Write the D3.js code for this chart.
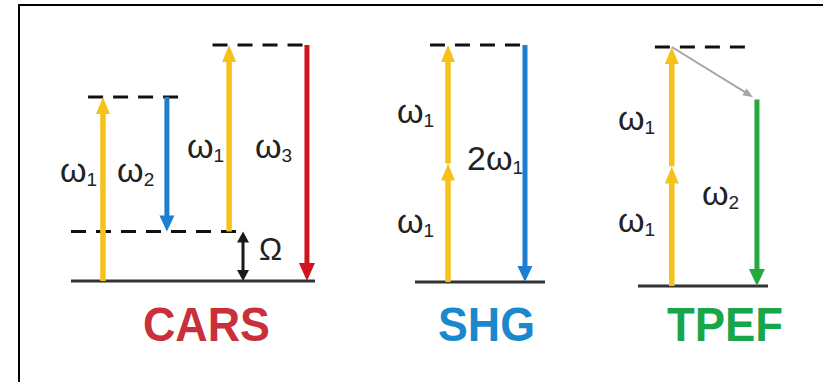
<!DOCTYPE html>
<html>
<head>
<meta charset="utf-8">
<script src="https://d3js.org/d3.v7.min.js"></script>
<style>
  body { margin: 0; background: #fff; }
  svg { display: block; }
</style>
</head>
<body>
<svg id="chart" width="823" height="382"></svg>
<script>
// ---- data: energies in arbitrary units (top virtual level = 100), x in panel units 0..100
const panels = ["CARS", "SHG", "TPEF"];

// levels: [panel, energy, xFrom, xTo, dashed]
const levels = [
  ["CARS", 0, 0, 100, false],
  ["CARS", 21, 0, 70.5, true],
  ["CARS", 78, 7, 45.5, true],
  ["CARS", 100, 58, 97, true],
  ["SHG", 0, 0, 100, false],
  ["SHG", 100, 11.5, 84.6, true],
  ["TPEF", 0, 0, 100, false],
  ["TPEF", 100, 13, 84.6, true]
];

// transitions: [panel, kind, x0, E0, x1, E1]
const transitions = [
  ["CARS", "pump", 13.1, 0, 13.1, 78],
  ["CARS", "stokes", 39.3, 78, 39.3, 21],
  ["CARS", "pump", 64.8, 21, 64.8, 100],
  ["CARS", "antistokes", 96.7, 100, 96.7, 0],
  ["CARS", "raman", 70.5, 0, 70.5, 21],
  ["SHG", "pump", 25.4, 0, 25.4, 50],
  ["SHG", "pump", 25.4, 50, 25.4, 100],
  ["SHG", "shg", 84.6, 100, 84.6, 0],
  ["TPEF", "pump", 26, 0, 26, 50],
  ["TPEF", "pump", 26, 50, 26, 100],
  ["TPEF", "relax", 26, 100, 88.5, 79],
  ["TPEF", "fluor", 91.5, 78, 91.5, 0]
];

// labels: [panel, main, subscript, x, E]
const labels = [
  ["CARS", "ω", "1", -4.5, 42],
  ["CARS", "ω", "2", 18.9, 42],
  ["CARS", "ω", "1", 47.5, 52],
  ["CARS", "ω", "3", 75.4, 52],
  ["CARS", "Ω", "", 77, 9],
  ["SHG", "ω", "1", -13.8, 67],
  ["SHG", "ω", "1", -13.8, 20.7],
  ["SHG", "2ω", "1", 40, 47.3],
  ["TPEF", "ω", "1", -15.4, 65.3],
  ["TPEF", "ω", "1", -15.4, 22.6],
  ["TPEF", "ω", "2", 49.2, 33.9]
];

// ---- layout and styles
const layout = {
  CARS: { x: [71, 315], y: [281, 45], title: [206.5, 127] },
  SHG:  { x: [415, 545], y: [282, 45], title: [486.5, 97] },
  TPEF: { x: [638, 768], y: [286, 47], title: [725, 116] }
};
const titleColor = { CARS: "#c9303a", SHG: "#1a88cc", TPEF: "#19a64a" };
const arrowStyle = {
  pump:       { color: "#f7c11b", w: 5.5, hl: 17, hw: 14, both: false },
  stokes:     { color: "#1d7fcf", w: 5, hl: 16, hw: 15, both: false },
  antistokes: { color: "#d2151d", w: 5, hl: 18, hw: 16, both: false },
  raman:      { color: "#1a1a1a", w: 3, hl: 11, hw: 12, both: true },
  shg:        { color: "#1d7fcf", w: 5, hl: 16, hw: 15, both: false },
  relax:      { color: "#a6a6a6", w: 2, hl: 10, hw: 8, both: false },
  fluor:      { color: "#26a83a", w: 5, hl: 17, hw: 16, both: false }
};

const svg = d3.select("#chart");

// frame (only top and left edges visible in the crop)
svg.append("path")
  .attr("d", "M19,382 L19,5 L823,5")
  .attr("fill", "none")
  .attr("stroke", "#000")
  .attr("stroke-width", 2);

const scales = {};
panels.forEach(p => {
  scales[p] = {
    x: d3.scaleLinear().domain([0, 100]).range(layout[p].x),
    y: d3.scaleLinear().domain([0, 100]).range(layout[p].y)
  };
});

function head(g, tx, ty, ux, uy, s) {
  const bx = tx - ux * s.hl, by = ty - uy * s.hl;
  const nx = -uy, ny = ux;
  g.append("path")
    .attr("d", `M${tx},${ty} L${bx + nx * s.hw / 2},${by + ny * s.hw / 2} L${bx - nx * s.hw / 2},${by - ny * s.hw / 2} Z`)
    .attr("fill", s.color);
}

function arrow(g, x0, y0, x1, y1, s) {
  const len = Math.hypot(x1 - x0, y1 - y0);
  const ux = (x1 - x0) / len, uy = (y1 - y0) / len;
  const sx = s.both ? x0 + ux * (s.hl - 1) : x0, sy = s.both ? y0 + uy * (s.hl - 1) : y0;
  g.append("line")
    .attr("x1", sx).attr("y1", sy)
    .attr("x2", x1 - ux * (s.hl - 1)).attr("y2", y1 - uy * (s.hl - 1))
    .attr("stroke", s.color).attr("stroke-width", s.w);
  head(g, x1, y1, ux, uy, s);
  if (s.both) head(g, x0, y0, -ux, -uy, s);
}

const gLevels = svg.append("g");
levels.forEach(([p, e, a, b, dashed]) => {
  const sc = scales[p];
  gLevels.append("line")
    .attr("x1", sc.x(a)).attr("x2", sc.x(b))
    .attr("y1", sc.y(e)).attr("y2", sc.y(e))
    .attr("stroke", dashed ? "#111" : "#333")
    .attr("stroke-width", 3)
    .attr("stroke-dasharray", dashed ? "15,10" : null);
});

const gArrows = svg.append("g");
transitions.forEach(([p, kind, x0, e0, x1, e1]) => {
  const sc = scales[p];
  arrow(gArrows, sc.x(x0), sc.y(e0), sc.x(x1), sc.y(e1), arrowStyle[kind]);
});

const gLabels = svg.append("g")
  .attr("font-family", "'Liberation Sans', Arial, sans-serif")
  .attr("fill", "#222");
labels.forEach(([p, main, sub, x, e]) => {
  const sc = scales[p];
  const t = gLabels.append("text")
    .attr("x", sc.x(x)).attr("y", sc.y(e))
    .attr("font-size", main === "Ω" ? 31 : 34);
  t.append("tspan").text(main);
  if (sub) t.append("tspan").attr("font-size", 19).attr("dy", 4).text(sub);
});

svg.append("g").selectAll("text")
  .data(panels)
  .join("text")
  .attr("x", d => layout[d].title[0])
  .attr("y", 341)
  .attr("text-anchor", "middle")
  .attr("font-family", "'Liberation Sans', Arial, sans-serif")
  .attr("font-weight", "bold")
  .attr("font-size", 48)
  .attr("textLength", d => layout[d].title[1])
  .attr("lengthAdjust", "spacingAndGlyphs")
  .attr("fill", d => titleColor[d])
  .text(d => d);
</script>
</body>
</html>
